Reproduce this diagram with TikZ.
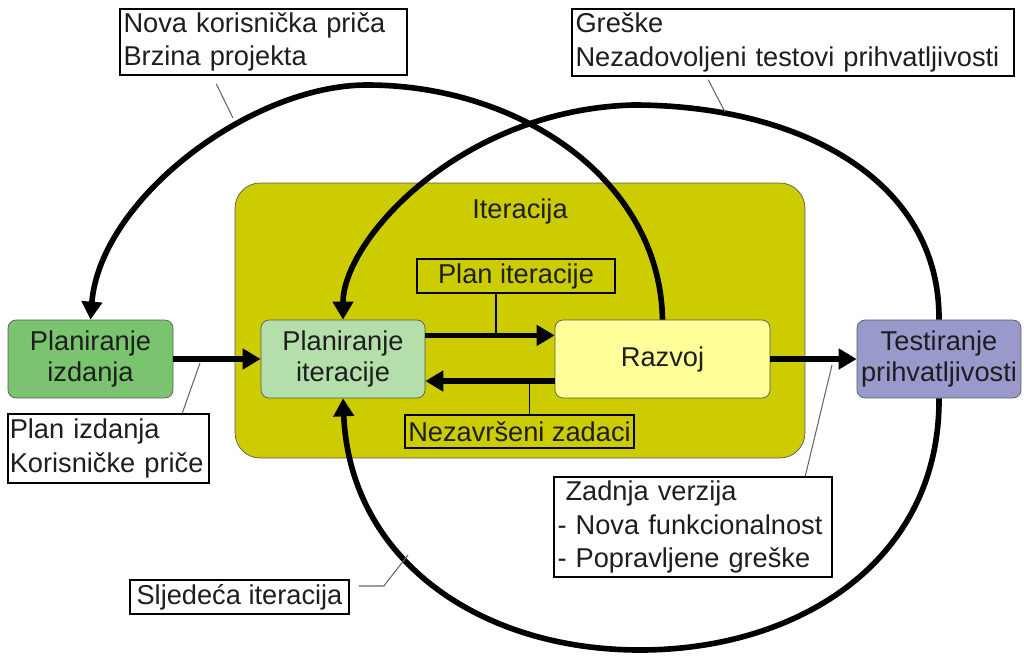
\documentclass[tikz,border=0pt]{standalone}
\usepackage{fontspec}
\setmainfont{Liberation Sans}
\usepackage{tikz}
\usetikzlibrary{positioning,calc,arrows.meta}
\definecolor{iterolive}{RGB}{204,204,0}
\definecolor{izdgreen}{RGB}{122,196,111}
\definecolor{itgreen}{RGB}{181,223,170}
\definecolor{razyellow}{RGB}{255,255,153}
\definecolor{testpurple}{RGB}{153,153,204}
\definecolor{txtgray}{RGB}{30,30,30}

\begin{document}
\begin{tikzpicture}[x=0.02cm, y=-0.02cm,
  every node/.style={font=\fontsize{15.5}{18}\selectfont, text=txtgray},
  phasebox/.style={draw=black!65, rounded corners=0.16cm, align=center,
                   minimum height=1.56cm, inner sep=1pt},
  notebox/.style={draw, fill=white, line width=0.9pt, align=left, inner sep=2pt,
                  font=\fontsize{15.5}{19}\selectfont},
  tagbox/.style={draw, line width=0.9pt, align=center, inner sep=2pt},
  flow/.style={line width=3.2pt, -{Triangle[length=0.36cm,width=0.4cm]}},
  leader/.style={draw=black!60, line width=0.6pt}]
  \useasboundingbox (0,0) rectangle (1024,656);

  % iteration frame
  \node[draw=black!65, fill=iterolive, rounded corners=0.5cm,
        minimum width=11.4cm, minimum height=5.5cm] (iter) at (520,320.5) {};
  \node (itertxt) at ($(iter.north)+(0,29)$) {Iteracija};
  \node[tagbox, minimum width=3.96cm, minimum height=0.68cm] (planit) at (516,276) {Plan iteracije};
  \node[tagbox, minimum width=4.54cm, minimum height=0.66cm] (nezav) at (519.5,431.5) {Nezavršeni zadaci};
  \draw[line width=0.8pt] ($(planit.south)+(-20,0)$) -- ++(0,43);
  \draw[line width=0.8pt] ($(nezav.north)+(10,0)$) -- ++(0,-34);

  % phases
  \node[phasebox, fill=izdgreen, minimum width=3.3cm] (izd) at (90.5,359) {Planiranje\\izdanja};
  \node[phasebox, fill=itgreen, minimum width=3.28cm] (pit) at (343,359) {Planiranje\\iteracije};
  \node[phasebox, fill=razyellow, minimum width=4.3cm] (raz) at (662.5,359) {Razvoj};
  \node[phasebox, fill=testpurple, minimum width=3.28cm] (test) at (939,359) {Testiranje\\prihvatljivosti};

  \draw[flow] (izd) -- (pit);
  \draw[flow] ($(pit.north east)!0.2!(pit.south east)$) -- ($(raz.north west)!0.2!(raz.south west)$);
  \draw[flow] ($(raz.north west)!0.78!(raz.south west)$) -- ($(pit.north east)!0.78!(pit.south east)$);
  \draw[flow] (raz) -- (test);

  % feedback loops
  \draw[flow] (raz.north) .. controls (660,180) and (520,85) .. (367,85)
                          .. controls (250,85) and (100,200) .. (izd.north);
  \draw[flow] (test.north) .. controls (940,180) and (800,105) .. (633,105)
                           .. controls (460,110) and (343,240) .. (pit.north);
  \draw[flow] (test.south) .. controls (940,560) and (800,650) .. (640,650)
                           .. controls (480,650) and (350,560) .. (pit.south);

  % notes
  \node[notebox, text width=5.6cm, minimum height=1.32cm] (nova) at (263.5,42)
    {Nova korisnička priča\\Brzina projekta};
  \node[notebox, text width=8.7cm, minimum height=1.34cm] (greske) at (793,42.5)
    {Greške\\Nezadovoljeni testovi prihvatljivosti};
  \node[notebox, text width=3.95cm, inner xsep=1pt, minimum height=1.38cm] (planizd) at (108.5,448.5)
    {Plan izdanja\\Korisničke priče};
  \node[notebox, text width=5.42cm, minimum height=2cm] (zadnja) at (693,527)
    {\hspace*{0.16cm}Zadnja verzija\\- Nova funkcionalnost\\- Popravljene greške};
  \node[tagbox, fill=white, minimum width=4.38cm, minimum height=0.68cm] (sljed) at (239.5,597)
    {Sljedeća iteracija};

  \coordinate (novaend) at (233,118);
  \coordinate (greskeend) at (725,112);
  \coordinate (izdstart) at (200,363);
  \coordinate (zadstart) at (832,365);
  \coordinate (sljedend) at (408,555);
  \draw[leader] ($(nova.south west)+(97,8)$) -- (novaend);
  \draw[leader] ($(greske.south west)+(137,3)$) -- (greskeend);
  \draw[leader] (izdstart) -- ($(planizd.north west)+(175,0)$);
  \draw[leader] (zadstart) -- ($(zadnja.north west)+(252,0)$);
  \draw[leader] ($(sljed.east)+(9,-11)$) -- ++(25,0) -- (sljedend);
\end{tikzpicture}
\end{document}
